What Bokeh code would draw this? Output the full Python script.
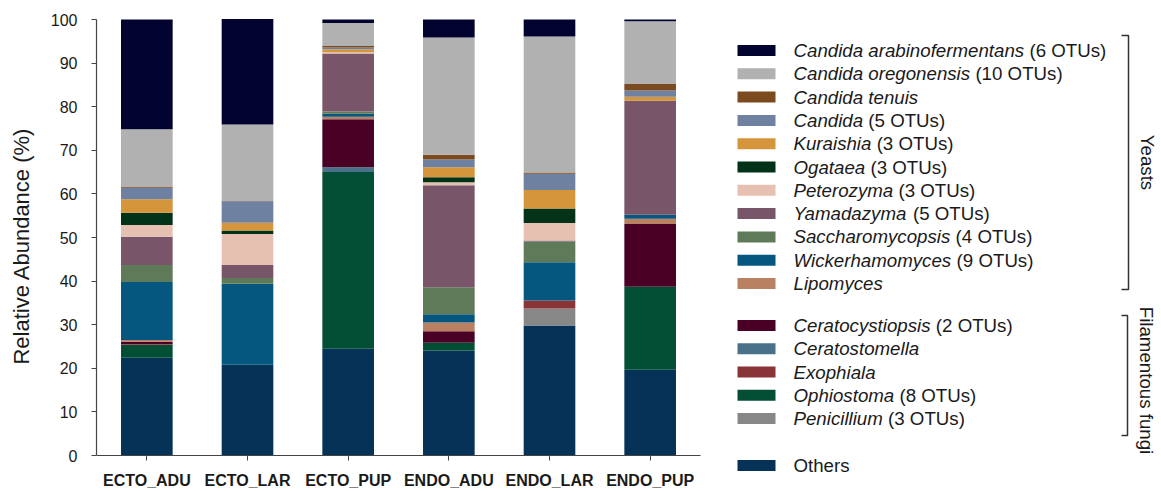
import math
from bokeh.plotting import figure
from bokeh.models import ColumnDataSource, Range1d, FixedTicker, LinearScale
from bokeh.core.properties import value
from bokeh.embed import file_html
from bokeh.resources import INLINE

# ---------------- data ----------------
groups = ["ECTO_ADU", "ECTO_LAR", "ECTO_PUP", "ENDO_ADU", "ENDO_LAR", "ENDO_PUP"]

# stacked from bottom to top
others                    = [22.4, 20.8, 24.5, 24.1, 29.8, 19.65]
penicillium               = [0.0,  0.0,  0.0,  0.0,  3.9,  0.0]
ophiostoma                = [3.0,  0.0,  40.5, 1.75, 0.0,  19.05]
exophiala                 = [0.2,  0.0,  0.0,  0.0,  1.85, 0.0]
ceratostomella            = [0.0,  0.0,  1.1,  0.0,  0.0,  0.0]
ceratocystiopsis          = [0.5,  0.0,  11.0, 2.65, 0.0,  14.4]
lipomyces                 = [0.4,  0.0,  0.6,  2.0,  0.0,  1.2]
wickerhamomyces           = [13.3, 18.6, 0.7,  1.9,  8.75, 0.9]
saccharomycopsis          = [3.9,  1.3,  0.5,  6.2,  4.8,  0.0]
yamadazyma                = [6.5,  3.0,  13.3, 23.4, 0.2,  26.15]
peterozyma                = [2.65, 7.1,  0.3,  0.7,  4.0,  0.0]
ogataea                   = [2.85, 0.8,  0.0,  1.1,  3.35, 0.0]
kuraishia                 = [3.1,  1.8,  0.7,  2.3,  4.25, 0.95]
candida                   = [2.6,  4.9,  0.4,  1.8,  3.7,  1.4]
candida_tenuis            = [0.2,  0.1,  0.3,  1.1,  0.3,  1.5]
candida_oregonensis       = [13.2, 17.5, 5.3,  26.9, 31.2, 14.4]
candida_arabinofermentans = [25.2, 24.2, 0.8,  4.1,  3.9,  0.4]

y_ticks = [0, 10, 20, 30, 40, 50, 60, 70, 80, 90, 100]

# legend (top to bottom)
legend_names = ["Candida arabinofermentans", "Candida oregonensis", "Candida tenuis", "Candida",
                "Kuraishia", "Ogataea", "Peterozyma", "Yamadazyma", "Saccharomycopsis",
                "Wickerhamomyces", "Lipomyces", "Ceratocystiopsis", "Ceratostomella",
                "Exophiala", "Ophiostoma", "Penicillium", "Others"]
legend_suffix = ["(6 OTUs)", "(10 OTUs)", "", "(5 OTUs)", "(3 OTUs)", "(3 OTUs)", "(3 OTUs)",
                 "(5 OTUs)", "(4 OTUs)", "(9 OTUs)", "", "(2 OTUs)", "", "", "(8 OTUs)",
                 "(3 OTUs)", ""]
group_labels = ["Yeasts", "Filamentous fungi"]

colors_top_down = ["#02032e", "#b1b1b1", "#7b4a1f", "#6f81a1", "#d5953a", "#023218",
                   "#e6c1b2", "#785569", "#5f7a59", "#055780", "#b98162", "#4a0025",
                   "#49728a", "#893537", "#034f35", "#878787", "#053256"]

series_top_down = [candida_arabinofermentans, candida_oregonensis, candida_tenuis, candida,
                   kuraishia, ogataea, peterozyma, yamadazyma, saccharomycopsis,
                   wickerhamomyces, lipomyces, ceratocystiopsis, ceratostomella, exophiala,
                   ophiostoma, penicillium, others]

FONT = "Liberation Sans"
TXT = "#1a1a1a"

# ---------------- layout (page pixels) ----------------
W_FIG, H_FIG = 1161, 491
AX_LEFT, AX_RIGHT, AX_TOP, AX_BOTTOM = 96, 700, 19, 455   # where 0..100 / bars live
n = len(groups)
PX_PER_X = (AX_RIGHT - AX_LEFT) / n
PX_PER_Y = (AX_BOTTOM - AX_TOP) / 100.0

x_lo = -0.5
x_hi = x_lo + (W_FIG - AX_LEFT) / PX_PER_X
y_hi = 100 + AX_TOP / PX_PER_Y
y_lo = -(H_FIG - AX_BOTTOM) / PX_PER_Y

xpos = list(range(n))
keys = ["s%d" % i for i in range(len(series_top_down))]
data = {"x": xpos}
for k, s in zip(keys, series_top_down):
    data[k] = s
src = ColumnDataSource(data)

p = figure(x_range=Range1d(x_lo, x_hi), y_range=Range1d(y_lo, y_hi),
           width=W_FIG, height=H_FIG,
           min_border_left=AX_LEFT, min_border_right=0, min_border_top=0, min_border_bottom=0,
           output_backend="svg", toolbar_location=None)
p.title.visible = False
p.vbar_stack(keys[::-1], x="x", width=0.513, color=colors_top_down[::-1],
             line_color=None, source=src)

p.grid.visible = False
p.outline_line_color = None

p.yaxis.bounds = (0, 100)
p.yaxis.ticker = FixedTicker(ticks=y_ticks)
p.yaxis.axis_label = "Relative Abundance (%)"
p.yaxis.axis_label_text_font = FONT
p.yaxis.axis_label_text_font_style = "normal"
p.yaxis.axis_label_text_font_size = "22px"
p.yaxis.axis_label_text_color = TXT
p.yaxis.axis_label_standoff = 14
p.yaxis.major_label_text_font = FONT
p.yaxis.major_label_text_font_size = "16px"
p.yaxis.major_label_text_color = TXT
p.yaxis.major_label_standoff = 14
p.yaxis.major_tick_in = 0
p.yaxis.major_tick_out = 5
p.yaxis.minor_tick_in = 0
p.yaxis.minor_tick_out = 0

p.xaxis.fixed_location = 0
p.xaxis.bounds = (x_lo, n - 0.5)
p.xaxis.ticker = FixedTicker(ticks=xpos)
p.xaxis.major_label_overrides = {i: g for i, g in zip(xpos, groups)}
p.xaxis.major_label_text_font = FONT
p.xaxis.major_label_text_font_style = "bold"
p.xaxis.major_label_text_font_size = "16px"
p.xaxis.major_label_text_color = TXT
p.xaxis.major_label_standoff = 11
p.xaxis.major_tick_in = 0
p.xaxis.major_tick_out = 5
p.xaxis.minor_tick_in = 0
p.xaxis.minor_tick_out = 0

for ax in (p.xaxis, p.yaxis):
    ax.axis_line_color = "#444444"
    ax.major_tick_line_color = "#444444"
    ax.axis_line_width = 1.2

# pixel-coordinate ranges for the legend (value == page pixel; y counted from bottom)
p.extra_x_ranges = {"px": Range1d(AX_LEFT, W_FIG)}
p.extra_x_scales = {"px": LinearScale()}
p.extra_y_ranges = {"py": Range1d(0, H_FIG)}
p.extra_y_scales = {"py": LinearScale()}
PX = dict(x_range_name="px", y_range_name="py")


def Y(img_y):
    return H_FIG - img_y


# Arial / Liberation Sans advance widths (per 1000 em)
AW = {' ': 278, 'a': 556, 'b': 556, 'c': 500, 'd': 556, 'e': 556, 'f': 278, 'g': 556,
      'h': 556, 'i': 222, 'j': 222, 'k': 500, 'l': 222, 'm': 833, 'n': 556, 'o': 556,
      'p': 556, 'q': 556, 'r': 333, 's': 500, 't': 278, 'u': 556, 'v': 500, 'w': 722,
      'x': 500, 'y': 500, 'z': 500, 'C': 722, 'E': 667, 'K': 667, 'L': 556, 'O': 778,
      'P': 667, 'Y': 667, 'S': 667, 'W': 944}


def text_w(s, size):
    return sum(AW.get(ch, 556) for ch in s) * size / 1000.0


FS = 18.7
FSS = "%gpx" % FS
row_y = [50 + 23.3 * i for i in range(11)] + [325 + 23.25 * j for j in range(5)] + [465]
SW_L, SW_R, SW_H, TX = 737, 775, 11, 793

p.quad(left=[SW_L] * len(row_y), right=[SW_R] * len(row_y),
       top=[Y(v - SW_H / 2) for v in row_y], bottom=[Y(v + SW_H / 2) for v in row_y],
       color=colors_top_down, line_color=None, **PX)

p.text(x=[TX] * 16, y=[Y(v) for v in row_y[:16]], text=legend_names[:16],
       text_font=value(FONT), text_font_style="italic", text_font_size=FSS,
       text_baseline="middle", text_color=TXT, **PX)

nx, ny, nt = [], [], []
for name, suf, yy in zip(legend_names[:16], legend_suffix[:16], row_y[:16]):
    if suf:
        nx.append(TX + text_w(name + " ", FS))
        ny.append(Y(yy))
        nt.append(suf)
nx.append(TX)
ny.append(Y(row_y[16]))
nt.append(legend_names[16])
p.text(x=nx, y=ny, text=nt, text_font=value(FONT), text_font_size=FSS,
       text_baseline="middle", text_color=TXT, **PX)

# brackets
p.multi_line(xs=[[1121, 1128, 1128, 1121], [1121, 1127, 1127, 1121]],
             ys=[[Y(35), Y(35), Y(289), Y(289)], [Y(315), Y(315), Y(435), Y(435)]],
             line_color="#333333", line_width=1.5, **PX)

p.text(x=[1147, 1146], y=[Y(162), Y(380)], text=group_labels, angle=-math.pi / 2,
       text_font=value(FONT), text_font_size=FSS, text_align="center",
       text_baseline="middle", text_color=TXT, **PX)

open("out.html", "w").write(file_html(p, INLINE))
